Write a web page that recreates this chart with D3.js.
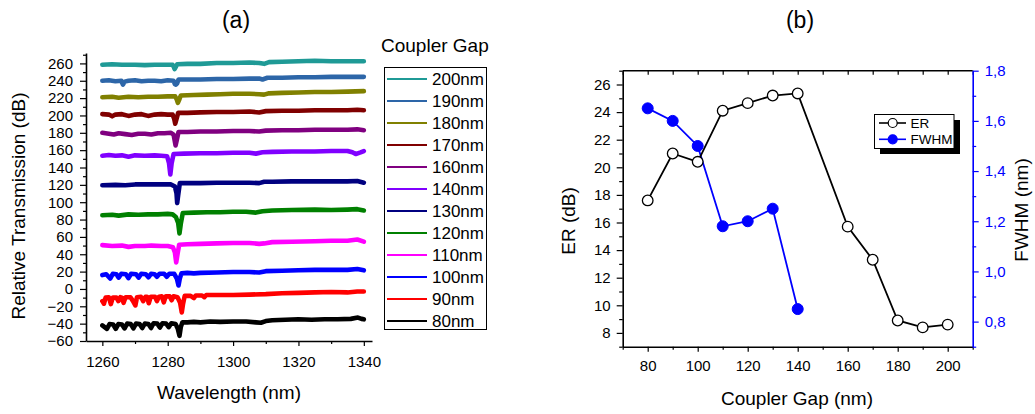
<!DOCTYPE html>
<html><head><meta charset="utf-8">
<script src="https://cdn.jsdelivr.net/npm/d3@7"></script>
<style>
body{margin:0;background:#fff}
text{font-family:"Liberation Sans",Arial,sans-serif;fill:#000}
</style>
</head><body>
<svg id="chart" width="1035" height="414"></svg>
<script>
// ---------- Panel (a) data ----------
const gapLabels = ["200nm","190nm","180nm","170nm","160nm","140nm","130nm","120nm","110nm","100nm","90nm","80nm"];
const gapColors = ["#1f9a96","#2d66a8","#808000","#800000","#800080","#8000ff","#000080","#008000","#ff00ff","#0000ff","#ff0000","#000000"];

const s80 = [[1260,-42],[1261.4,-46],[1262.2,-40.5],[1263.3,-41],[1264.1,-46],[1264.9,-40.5],[1266,-41],[1266.8,-45.5],[1267.6,-40],[1268.7,-40.5],[1269.5,-45.5],[1270.3,-40],[1271.4,-40.5],[1272.2,-45],[1273,-40],[1274.1,-40.5],[1274.9,-45],[1275.7,-39.5],[1276.8,-40],[1277.6,-44.5],[1278.4,-39.5],[1279.5,-40],[1280.3,-44],[1281.1,-39.5],[1282.4,-40.5],[1283.1,-46],[1283.6,-54],[1284,-44],[1284.5,-38.5],[1286,-38.5],[1288,-38],[1290,-38.5],[1293,-37.5],[1296,-38],[1300,-37.5],[1304,-37.5],[1307,-38.5],[1308.5,-39],[1310,-37],[1312,-36],[1316,-35.5],[1320,-35],[1324,-35.5],[1328,-35],[1332,-35],[1336,-34.5],[1338.2,-33],[1339.3,-34.5],[1340,-35]];
const s90 = [[1260,-14],[1260.5,-17],[1261,-10],[1262,-9.5],[1262.6,-17.5],[1263.2,-10],[1264.3,-10],[1264.9,-14],[1265.5,-9.5],[1266,-10],[1266.5,-16],[1267.1,-9.5],[1268.6,-9.5],[1269.4,-14],[1270.1,-19],[1270.6,-9.5],[1271.8,-9],[1272.5,-14],[1273.2,-9],[1273.7,-9],[1274.2,-16.5],[1274.8,-9],[1276.1,-9],[1276.7,-14],[1277.3,-9],[1278.2,-8.5],[1278.8,-15.5],[1279.4,-8.5],[1280.6,-8.5],[1281.2,-13],[1281.8,-8.5],[1283,-9.5],[1283.8,-16],[1284.3,-27],[1284.7,-17],[1285.2,-8],[1287,-8],[1288,-10.5],[1288.6,-7.5],[1290.5,-7.5],[1291.2,-9.5],[1291.8,-7],[1294,-7],[1296,-7],[1300,-7],[1305,-6.5],[1310,-6],[1315,-5],[1320,-4.5],[1325,-4],[1330,-3.5],[1335,-4],[1338,-3],[1340,-3]];
const s100 = [[1260,16],[1261.2,17],[1262.4,12],[1263.2,17.5],[1264.3,17],[1265,13],[1265.8,17.5],[1267.2,17],[1268,12.5],[1268.8,17.5],[1270.3,17],[1271.1,13],[1271.9,17.5],[1273.3,17],[1274.1,13.5],[1274.9,17.5],[1276,17],[1276.7,14],[1277.5,17.5],[1278.9,17.5],[1279.7,14],[1280.5,17.5],[1282,17.5],[1282.8,12],[1283.3,4],[1283.7,12],[1284.2,18],[1286,18.5],[1288,18],[1290,18.5],[1295,19],[1300,19.5],[1305,19.5],[1308,19],[1310,20.5],[1315,21],[1320,21.5],[1325,22],[1330,22],[1335,22],[1338,23],[1340,21.5]];
const s110 = [[1260,50.5],[1263,49.5],[1266,50],[1268,48.5],[1270,49.5],[1273,49.5],[1275,50],[1278,49.5],[1280,49.5],[1281.6,48],[1282.2,42],[1282.6,30.5],[1283,40],[1283.5,51],[1286,51.5],[1290,52],[1295,52.5],[1300,53],[1305,53],[1308,52],[1309.5,52.5],[1312,54],[1318,54.5],[1325,55],[1330,55.5],[1335,55.5],[1338,57],[1340,54.5]];
const s120 = [[1260,85],[1263,85.5],[1265,84.5],[1268,86],[1271,85.5],[1274,86],[1277,86],[1280,86.5],[1281.5,86],[1282.5,83],[1283.2,76],[1283.6,64],[1284,75],[1284.6,87.5],[1288,88],[1292,88.5],[1296,88.5],[1300,89],[1304,89],[1307,88],[1309,89.5],[1312,90.5],[1318,91],[1325,91.5],[1330,91],[1335,91.5],[1338,92],[1340,90.5]];
const s130 = [[1260,119.5],[1264,120],[1267,119.5],[1270,120.5],[1274,120.5],[1278,120.5],[1281,120.5],[1282.2,118],[1282.7,110],[1282.9,99],[1283.2,108],[1283.7,122],[1286,122],[1290,122],[1295,122.5],[1300,122.5],[1305,122.5],[1308,122],[1309.5,123.5],[1312,123.5],[1318,124],[1325,124],[1330,124],[1335,124],[1338,124.5],[1340,122.5]];
const s140 = [[1260,153.5],[1262,154.5],[1264,153.5],[1266,154],[1268,152.5],[1270,154],[1273,153.5],[1276,154],[1278,153.5],[1279.8,153],[1280.4,145],[1280.8,132],[1281.2,145],[1281.8,155.5],[1285,156],[1290,156.5],[1295,156.5],[1300,157],[1305,157],[1307,156],[1309,157.5],[1312,158],[1318,158.5],[1325,158.5],[1330,159],[1335,159],[1336.5,157.5],[1337.5,155.5],[1339,157.5],[1340,159]];
const s160 = [[1260,180],[1262,179],[1263.5,178],[1265,179.5],[1267,178.5],[1269,177.5],[1271,179],[1273,179],[1275,178],[1277,179.5],[1279,179.5],[1281,180],[1281.8,178],[1282.4,165.5],[1282.8,172],[1283.3,181],[1286,181],[1290,181.5],[1295,181.5],[1300,182],[1305,182],[1308,181.5],[1310,182.5],[1315,183],[1320,183],[1325,183.5],[1330,183.5],[1335,183.5],[1338,184],[1340,183]];
const s170 = [[1260,201.5],[1262,201],[1263,199],[1264,201],[1266,201.5],[1268,199.5],[1270,201],[1272,201.5],[1274,199.5],[1276,201],[1278,201.5],[1280,201],[1281.5,201],[1282,196],[1282.3,190.5],[1282.7,196],[1283.2,203],[1286,203],[1290,203.5],[1295,204],[1300,204],[1305,204.5],[1308,203.5],[1310,205],[1315,205.5],[1320,205.5],[1325,206],[1330,206],[1335,206],[1338,206.5],[1340,206]];
const s180 = [[1260,221],[1263,221.5],[1265,220.5],[1268,221.5],[1271,221],[1274,221.5],[1277,221.5],[1280,222],[1282.3,222],[1282.8,218],[1283.1,214.5],[1283.5,218],[1284,223],[1288,223.5],[1292,224],[1296,224.5],[1300,225],[1305,225],[1308,224.5],[1309.5,224],[1311,225.5],[1315,226],[1320,226.5],[1325,227],[1330,227],[1335,227.5],[1340,228]];
const s190 = [[1260,240],[1262,240.5],[1264,239.5],[1265.8,240],[1266.3,235.5],[1266.8,239],[1268,240],[1270,240.5],[1272,239.5],[1274,240],[1276,240],[1278,239.5],[1280,240.5],[1281.8,240],[1282.2,236],[1282.5,235.5],[1282.9,237],[1283.3,241.5],[1286,241.5],[1290,241.5],[1295,242],[1300,242],[1305,242.5],[1308,242.5],[1309,241.5],[1310.5,243.5],[1315,243.5],[1320,244],[1325,244],[1330,244.5],[1335,244.5],[1340,244.5]];
const s200 = [[1260,258.5],[1263,259],[1266,258.5],[1270,258.5],[1273,258],[1276,258.5],[1279,258.5],[1281.5,258.5],[1281.9,255.5],[1282.1,253.5],[1282.4,255.5],[1282.9,259],[1286,259.5],[1290,259.5],[1295,260.5],[1300,260.5],[1305,261],[1308,260.5],[1309.5,259.5],[1311,261.5],[1315,262],[1320,262.5],[1325,263],[1330,262.5],[1335,262.5],[1340,262.5]];
const spectra = [s200,s190,s180,s170,s160,s140,s130,s120,s110,s100,s90,s80];

const specXTicks = [1260,1280,1300,1320,1340];
const specXMinor = [1270,1290,1310,1330];
const specYTicks = [-60,-40,-20,0,20,40,60,80,100,120,140,160,180,200,220,240,260];
const specYMinor = [-50,-30,-10,10,30,50,70,90,110,130,150,170,190,210,230,250,270];

// ---------- Panel (b) data ----------
const erGap = [80,90,100,110,120,130,140,160,170,180,190,200];
const erValues = [17.6,21.0,20.4,24.1,24.65,25.2,25.35,15.7,13.3,8.9,8.4,8.6];
const fwhmGap = [80,90,100,110,120,130,140];
const fwhmValues = [1.65,1.60,1.50,1.18,1.20,1.25,0.85];
const gapTicks = [80,100,120,140,160,180,200];
const gapMinor = [70,90,110,130,150,170,190,210];
const erTicks = [8,10,12,14,16,18,20,22,24,26];
const erMinor = [7,9,11,13,15,17,19,21,23,25,27];
const fwhmTicks = [0.8,1.0,1.2,1.4,1.6,1.8];
const fwhmMinor = [0.7,0.9,1.1,1.3,1.5,1.7];

const svg = d3.select("#chart");

function styleAxis(g, color, width){
  g.select(".domain").attr("stroke", color).attr("stroke-width", width);
  g.selectAll(".tick line").attr("stroke", color).attr("stroke-width", 1.2);
  g.selectAll(".tick text").style("font-size","15px").attr("fill", color).style("fill", color);
}

// ================= Panel (a) =================
const xa = d3.scaleLinear().domain([1255, 1342.5]).range([86, 372]);
const ya = d3.scaleLinear().domain([-60, 272]).range([341, 53]);

const pa = svg.append("g");
pa.append("g").attr("transform","translate(0,341)")
  .call(d3.axisBottom(xa).tickValues(specXMinor).tickSize(3).tickFormat(""))
  .call(g=>{g.select(".domain").remove(); g.selectAll("line").attr("stroke","#000").attr("stroke-width",1.2);});
pa.append("g").attr("transform","translate(86,0)")
  .call(d3.axisLeft(ya).tickValues(specYMinor).tickSize(3).tickFormat(""))
  .call(g=>{g.select(".domain").remove(); g.selectAll("line").attr("stroke","#000").attr("stroke-width",1.2);});
pa.append("g").attr("transform","translate(0,341)")
  .call(d3.axisBottom(xa).tickValues(specXTicks).tickSize(5).tickPadding(10).tickSizeOuter(0).tickFormat(d3.format("d")))
  .call(g=>styleAxis(g,"#000",1.6));
pa.append("g").attr("transform","translate(86,0)")
  .call(d3.axisLeft(ya).tickValues(specYTicks).tickSize(6).tickPadding(7).tickSizeOuter(0).tickFormat(d3.format("d")))
  .call(g=>styleAxis(g,"#000",1.6));

const lineA = d3.line().x(d=>xa(d[0])).y(d=>ya(d[1]));
spectra.forEach((s,i)=>{
  pa.append("path").datum(s).attr("d", lineA)
    .attr("fill","none").attr("stroke", gapColors[i])
    .attr("stroke-width",4.6).attr("stroke-linejoin","round").attr("stroke-linecap","round");
});

pa.append("text").attr("x",236).attr("y",28).attr("text-anchor","middle").style("font-size","23px").text("(a)");
pa.append("text").attr("x",229).attr("y",399).attr("text-anchor","middle").style("font-size","19px").text("Wavelength (nm)");
pa.append("text").attr("transform","translate(25,206) rotate(-90)").attr("text-anchor","middle").style("font-size","19px").text("Relative Transmission (dB)");

// legend (a)
pa.append("text").attr("x",381).attr("y",52).style("font-size","19px").text("Coupler Gap");
pa.append("rect").attr("x",384.5).attr("y",67.5).attr("width",102).attr("height",262)
  .attr("fill","#fff").attr("stroke","#000").attr("stroke-width",1);
const legY = d3.scalePoint().domain(gapLabels).range([79, 321]);
gapLabels.forEach((lab,i)=>{
  const yy = legY(lab);
  pa.append("line").attr("x1",387).attr("x2",427).attr("y1",yy).attr("y2",yy)
    .attr("stroke",gapColors[i]).attr("stroke-width",2);
  pa.append("text").attr("x",432).attr("y",yy).attr("dy","0.35em").style("font-size","17px").text(lab);
});

// ================= Panel (b) =================
const xb = d3.scaleLinear().domain([70,210]).range([622.7,972.7]);
const yer = d3.scaleLinear().domain([7,27]).range([346.7,70.7]);
const yfw = d3.scaleLinear().domain([0.7,1.8]).range([346.7,70.7]);
const pb = svg.append("g");

pb.append("line").attr("x1",622.7).attr("x2",972.7).attr("y1",70.7).attr("y2",70.7).attr("stroke","#000").attr("stroke-width",1.6);
pb.append("g").attr("transform","translate(0,70.7)")
  .call(d3.axisTop(xb).tickValues(gapTicks.concat(gapMinor)).tickSize(-4).tickFormat(""))
  .call(g=>{g.select(".domain").remove(); g.selectAll("line").attr("stroke","#000").attr("stroke-width",1.2);});
pb.append("g").attr("transform","translate(0,346.7)")
  .call(d3.axisBottom(xb).tickValues(gapMinor).tickSize(3).tickFormat(""))
  .call(g=>{g.select(".domain").remove(); g.selectAll("line").attr("stroke","#000").attr("stroke-width",1.2);});
pb.append("g").attr("transform","translate(0,346.7)")
  .call(d3.axisBottom(xb).tickValues(gapTicks).tickSize(5).tickPadding(9).tickSizeOuter(0))
  .call(g=>styleAxis(g,"#000",1.6));
pb.append("g").attr("transform","translate(622.7,0)")
  .call(d3.axisLeft(yer).tickValues(erMinor).tickSize(3.5).tickFormat(""))
  .call(g=>{g.select(".domain").remove(); g.selectAll("line").attr("stroke","#000").attr("stroke-width",1.2);});
pb.append("g").attr("transform","translate(622.7,0)")
  .call(d3.axisLeft(yer).tickValues(erTicks).tickSize(6).tickPadding(6).tickSizeOuter(0))
  .call(g=>styleAxis(g,"#000",1.6));
const blue = "#0000ff";
pb.append("g").attr("transform","translate(972.7,0)")
  .call(d3.axisRight(yfw).tickValues(fwhmMinor).tickSize(3.5).tickFormat(""))
  .call(g=>{g.select(".domain").remove(); g.selectAll("line").attr("stroke",blue).attr("stroke-width",1.2);});
pb.append("g").attr("transform","translate(972.7,0)")
  .call(d3.axisRight(yfw).tickValues(fwhmTicks).tickSize(6).tickPadding(6).tickSizeOuter(0)
        .tickFormat(d=>d3.format(".1f")(d).replace(".",",")))
  .call(g=>styleAxis(g,blue,1.6));

const erData = erGap.map((g,i)=>[g,erValues[i]]);
const fwData = fwhmGap.map((g,i)=>[g,fwhmValues[i]]);
pb.append("path").datum(fwData).attr("d", d3.line().x(d=>xb(d[0])).y(d=>yfw(d[1])))
  .attr("fill","none").attr("stroke",blue).attr("stroke-width",1.8);
pb.append("path").datum(erData).attr("d", d3.line().x(d=>xb(d[0])).y(d=>yer(d[1])))
  .attr("fill","none").attr("stroke","#000").attr("stroke-width",1.8);
pb.selectAll("circle.er").data(erData).enter().append("circle").attr("class","er")
  .attr("cx",d=>xb(d[0])).attr("cy",d=>yer(d[1])).attr("r",5.3)
  .attr("fill","#fff").attr("stroke","#000").attr("stroke-width",1.3);
pb.selectAll("circle.fw").data(fwData).enter().append("circle").attr("class","fw")
  .attr("cx",d=>xb(d[0])).attr("cy",d=>yfw(d[1])).attr("r",5.5)
  .attr("fill",blue).attr("stroke",blue).attr("stroke-width",1);

pb.append("text").attr("x",800).attr("y",28).attr("text-anchor","middle").style("font-size","23px").text("(b)");
pb.append("text").attr("x",797).attr("y",405).attr("text-anchor","middle").style("font-size","19px").text("Coupler Gap (nm)");
pb.append("text").attr("transform","translate(575,221) rotate(-90)").attr("text-anchor","middle").style("font-size","19px").text("ER (dB)");
pb.append("text").attr("transform","translate(1028,210) rotate(-90)").attr("text-anchor","middle").style("font-size","19px").text("FWHM (nm)");

pb.append("rect").attr("x",880).attr("y",120).attr("width",80).attr("height",34).attr("fill","#000");
pb.append("rect").attr("x",874.5).attr("y",114.5).attr("width",79.5).attr("height",34).attr("fill","#fff").attr("stroke","#000").attr("stroke-width",1);
const legB = [{label:"ER", color:"#000", fill:"#fff"},{label:"FWHM", color:blue, fill:blue}];
legB.forEach((e,i)=>{
  const yy = 123 + i*16.3;
  pb.append("line").attr("x1",879).attr("x2",906).attr("y1",yy).attr("y2",yy).attr("stroke",e.color).attr("stroke-width",1.6);
  pb.append("circle").attr("cx",892.7).attr("cy",yy).attr("r",4.5).attr("fill",e.fill).attr("stroke",e.color).attr("stroke-width",1.2);
  pb.append("text").attr("x",910.5).attr("y",yy).attr("dy","0.36em").style("font-size","13.5px").text(e.label);
});
</script>
</body></html>
